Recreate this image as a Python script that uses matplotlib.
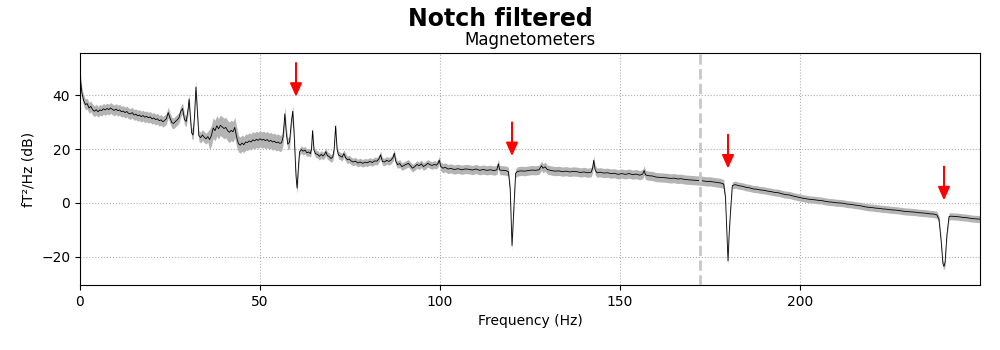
import numpy as np
import matplotlib
matplotlib.use("Agg")
import matplotlib.pyplot as plt

# Mean magnetometer PSD (dB) after notch filtering
psd_freqs = [
    0.0, 0.5, 1.0, 1.5, 2.0, 2.5, 3.0, 3.5, 4.0, 4.5, 5.0, 5.5, 6.0, 6.5, 7.0, 7.5,
    8.0, 8.5, 9.0, 9.5, 10.0, 10.5, 11.0, 11.5, 12.0, 12.5, 13.0, 13.5, 14.0, 14.5,
    15.0, 15.5, 16.0, 16.5, 17.0, 17.5, 18.0, 18.5, 19.0, 19.5, 20.0, 20.5, 21.0,
    21.5, 22.0, 22.5, 23.0, 23.5, 24.0, 24.5, 25.0, 25.5, 26.0, 26.5, 27.0, 27.5,
    28.0, 28.5, 29.0, 29.5, 30.0, 30.3, 30.7, 31.0, 31.4, 31.8, 32.2, 32.6, 33.0,
    33.5, 34.0, 34.5, 35.0, 35.5, 36.0, 36.5, 37.0, 37.5, 38.0, 38.5, 39.0, 39.5,
    40.0, 40.5, 41.0, 41.5, 42.0, 42.5, 43.0, 43.5, 44.0, 44.5, 45.0, 45.5, 46.0,
    46.5, 47.0, 47.5, 48.0, 48.5, 49.0, 49.5, 50.0, 50.5, 51.0, 51.5, 52.0, 52.5,
    53.0, 53.5, 54.0, 54.5, 55.0, 55.5, 56.0, 56.4, 56.9, 57.3, 57.7, 58.2, 58.7,
    59.1, 59.5, 60.0, 60.3, 60.7, 61.0, 61.5, 62.0, 62.5, 63.0, 63.5, 64.0, 64.3,
    64.6, 65.0, 65.4, 66.0, 66.5, 67.0, 67.5, 68.0, 68.3, 68.7, 69.2, 69.7, 70.2,
    70.6, 71.0, 71.4, 71.8, 72.3, 72.8, 73.3, 73.8, 74.3, 74.8, 75.3, 75.8, 76.5,
    77.2, 77.8, 78.5, 79.2, 79.8, 80.5, 81.2, 81.8, 82.5, 83.0, 83.5, 84.0, 84.6,
    85.2, 85.8, 86.5, 87.0, 87.3, 87.7, 88.2, 88.8, 89.4, 90.0, 90.6, 91.2, 91.8,
    92.4, 93.0, 93.6, 94.2, 94.8, 95.4, 96.0, 96.6, 97.2, 97.8, 98.4, 99.0, 99.5,
    99.8, 100.2, 100.8, 101.5, 102.2, 103.0, 104.0, 105.0, 106.0, 107.0, 108.0,
    109.0, 110.0, 111.0, 112.0, 113.0, 114.0, 115.0, 115.8, 116.2, 116.6, 117.5,
    118.3, 119.0, 119.5, 120.0, 120.5, 121.0, 121.5, 122.5, 123.5, 124.5, 125.5,
    126.5, 127.5, 128.2, 128.6, 129.2, 129.8, 131.0, 132.0, 133.0, 134.0, 135.0,
    136.0, 137.0, 138.0, 139.0, 140.0, 141.0, 142.0, 142.4, 142.7, 143.1, 143.6,
    144.5, 145.5, 146.5, 147.5, 148.5, 149.5, 150.5, 151.5, 152.5, 153.5, 154.5,
    155.5, 156.3, 156.7, 157.1, 158.0, 159.0, 160.0, 161.0, 162.0, 163.0, 164.0,
    165.0, 166.0, 167.0, 168.0, 169.0, 170.0, 171.0, 172.0, 173.0, 174.0, 175.0,
    176.0, 177.0, 178.0, 178.8, 179.3, 179.7, 180.0, 180.3, 180.7, 181.2, 182.0,
    183.0, 184.0, 185.0, 186.0, 187.0, 188.0, 189.0, 190.0, 191.0, 192.0, 193.0,
    194.0, 195.0, 196.0, 197.0, 198.0, 199.0, 200.0, 201.0, 202.0, 203.0, 204.0,
    205.0, 206.0, 207.0, 208.0, 209.0, 210.0, 211.0, 212.0, 213.0, 214.0, 215.0,
    216.0, 217.0, 218.0, 219.0, 220.0, 221.0, 222.0, 223.0, 224.0, 225.0, 226.0,
    227.0, 228.0, 229.0, 230.0, 231.0, 232.0, 233.0, 234.0, 235.0, 236.0, 237.0,
    238.0, 238.6, 239.2, 239.7, 240.0, 240.3, 240.8, 241.4, 242.0, 243.0, 244.0,
    245.0, 246.0, 247.0, 248.0, 249.0, 250.0,
]
psd_db = [
    47.5, 41.0, 38.0, 36.5, 36.8, 35.2, 35.8, 34.6, 34.0, 34.6, 33.8, 34.5, 34.2, 34.9, 34.5, 35.0,
    34.6, 35.2, 34.7, 34.3, 34.8, 34.2, 34.5, 33.8, 34.1, 33.5, 33.9, 33.2, 33.0, 33.5,
    32.6, 32.9, 32.3, 32.6, 32.0, 32.4, 31.8, 32.1, 31.6, 31.9, 31.2, 31.5, 30.9,
    31.2, 30.5, 30.8, 30.1, 30.6, 31.2, 33.5, 31.5, 29.8, 29.5, 30.2, 30.8, 31.6,
    34.0, 35.0, 31.0, 30.2, 34.5, 38.5, 31.0, 26.0, 25.2, 32.0, 43.0, 34.0, 25.0,
    24.2, 25.2, 24.4, 23.8, 24.6, 23.5, 25.0, 27.8, 26.8, 28.6, 27.5, 28.8, 28.2,
    27.6, 28.0, 26.8, 26.2, 26.9, 26.4, 28.0, 24.5, 22.0, 21.4, 22.2, 21.6, 22.6,
    22.4, 23.0, 22.6, 23.4, 23.0, 23.6, 23.2, 23.8, 23.3, 23.6, 23.1, 23.5, 22.8,
    23.2, 22.6, 22.9, 22.3, 22.6, 22.1, 22.3, 24.5, 33.0, 26.0, 21.8, 22.5, 30.0,
    34.0, 25.0, 10.0, 5.5, 14.0, 19.0, 19.8, 19.2, 19.6, 18.6, 18.9, 18.3, 20.0,
    26.8, 19.5, 18.3, 18.0, 17.3, 18.0, 17.4, 18.2, 19.0, 17.6, 17.2, 16.5, 17.0,
    20.0, 28.5, 20.0, 17.8, 17.4, 17.0, 18.3, 16.8, 16.0, 16.3, 15.6, 15.2, 15.5,
    14.8, 15.2, 14.7, 15.1, 14.9, 15.4, 15.0, 15.6, 15.5, 16.3, 17.8, 15.4, 15.2,
    15.8, 15.4, 16.0, 17.0, 18.5, 15.5, 14.2, 14.6, 13.5, 13.9, 14.3, 14.7, 13.8,
    12.9, 13.5, 14.3, 13.8, 14.5, 13.5, 14.0, 14.7, 14.2, 13.9, 14.3, 14.0, 14.8,
    15.9, 13.6, 12.9, 13.2, 12.6, 12.8, 12.4, 12.7, 12.3, 12.6, 12.5,
    12.2, 12.6, 12.1, 12.4, 12.1, 12.3, 12.0, 12.3, 14.5, 12.2, 12.1,
    12.0, 11.6, 5.0, -15.8, -2.0, 11.0, 11.7, 11.9, 11.8, 12.0, 12.2,
    12.1, 12.3, 13.8, 12.9, 13.4, 12.4, 12.0, 11.8, 11.9, 11.6, 11.8,
    11.5, 11.7, 11.6, 11.3, 11.5, 11.2, 11.4, 13.0, 15.8, 12.2, 11.2,
    11.4, 11.1, 11.2, 10.9, 11.0, 10.6, 10.9, 10.6, 10.9, 10.5, 10.7,
    10.3, 10.7, 12.0, 10.4, 10.1, 10.0, 9.6, 9.5, 9.4, 9.3, 9.1,
    9.2, 8.9, 9.0, 8.7, 8.6, 8.5, 8.4, 8.3, 8.2, 8.0, 8.0,
    7.8, 7.6, 7.4, 7.0, 2.0, -12.0, -21.5, -12.0, -3.0, 6.5, 6.8,
    6.4, 6.2, 5.8, 5.6, 5.2, 5.1, 4.8, 4.7, 4.4, 4.2, 3.9,
    3.8, 3.4, 3.1, 3.0, 2.6, 2.3, 2.0, 1.7, 1.5, 1.3, 1.2,
    1.0, 0.9, 0.6, 0.4, 0.3, 0.1, 0.0, -0.1, -0.4, -0.5, -0.7,
    -0.9, -1.1, -1.4, -1.6, -1.7, -1.9, -2.0, -2.2, -2.3, -2.5, -2.6,
    -2.7, -2.9, -3.1, -3.2, -3.3, -3.4, -3.6, -3.7, -3.8, -4.0, -4.1,
    -4.4, -6.0, -14.0, -22.5, -23.5, -22.0, -12.0, -5.0, -4.9, -5.0, -5.1,
    -5.3, -5.4, -5.6, -5.8, -5.9, -6.0,
]

# Spread across sensors (dB), one value per frequency band
sd_band_start = [0, 36, 44, 57, 61, 100, 179]
sd_band_value = [2.0, 3.8, 3.0, 2.2, 1.4, 1.7, 1.3]

notch_freqs = [60, 120, 180, 240]
lowpass = 172.2

freqs = np.array(psd_freqs)
mean = np.array(psd_db)
sd = np.array(sd_band_value)[np.searchsorted(sd_band_start, freqs, side="right") - 1]

fig = plt.figure(figsize=(10, 3.5), dpi=100)
ax = fig.add_axes([0.08, 0.1857, 0.90, 0.663])

ax.fill_between(freqs, mean - sd, mean + sd, color="#b4b4b4", lw=0, zorder=2)
ax.plot(freqs, mean, color="k", lw=0.6, zorder=3)
ax.axvline(lowpass, color="0.78", ls="--", lw=2, zorder=4)

# red arrows above line noise and its harmonics
for f in notch_freqs:
    near = (freqs >= f - 2) & (freqs <= f + 2.5)
    y = mean[near].max()
    ax.arrow(f, y + 18, 0, -12, color="red", width=0.1, head_width=3,
             length_includes_head=True, zorder=5)

ax.set_xlim(0, 250)
ax.set_ylim(-30.4, 55.6)
ax.set_xticks([0, 50, 100, 150, 200])
ax.set_yticks([-20, 0, 20, 40])
ax.grid(True, linestyle=":", color="#b0b0b0", lw=0.8, zorder=0)
ax.set_axisbelow(True)
ax.set_xlabel("Frequency (Hz)")
ax.set_ylabel("fT²/Hz (dB)")
ax.set_title("Magnetometers", fontsize=12)
fig.suptitle("Notch filtered", fontsize=17, fontweight="bold", y=0.98)

fig.savefig("out.png", dpi=100)
